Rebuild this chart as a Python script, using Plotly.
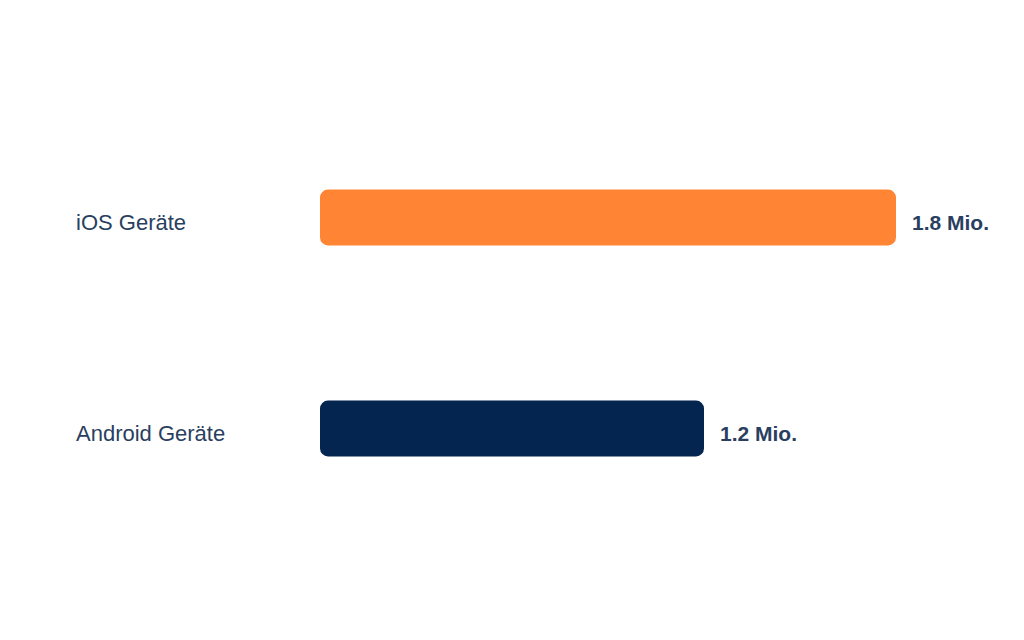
import plotly.graph_objects as go

categories = ["iOS Geräte", "Android Geräte"]
values = [1.8, 1.2]
value_labels = ["1.8 Mio.", "1.2 Mio."]
colors = ["#FF8534", "#03254F"]

fig = go.Figure()
fig.add_trace(go.Bar(
    x=values, y=categories, base=[0] * len(values), orientation="h",
    marker=dict(color=colors, line=dict(width=0)),
    width=0.265, hoverinfo="skip",
))

font_family = "Liberation Sans, Arial, sans-serif"
for cat, val, lab in zip(categories, values, value_labels):
    fig.add_annotation(
        x=val, y=cat, xref="x", yref="y",
        text=f"<b>{lab}</b>", showarrow=False,
        xanchor="left", xshift=14, yshift=-5,
        font=dict(family=font_family, size=21, color="#2a3f5f"),
    )
    fig.add_annotation(
        x=-0.3844, y=cat, xref="paper", yref="y",
        text=cat, showarrow=False, xanchor="left", yshift=-5,
        font=dict(family=font_family, size=22, color="#2a3f5f"),
    )

fig.update_layout(
    width=1024, height=640,
    margin=dict(l=312, r=72, t=104, b=114),
    paper_bgcolor="white", plot_bgcolor="white",
    barcornerradius=8,
    showlegend=False,
    xaxis=dict(range=[0, 2], visible=False, fixedrange=True),
    yaxis=dict(autorange="reversed", visible=False, fixedrange=True),
)

fig.write_html("out.html", config={"displayModeBar": False})
